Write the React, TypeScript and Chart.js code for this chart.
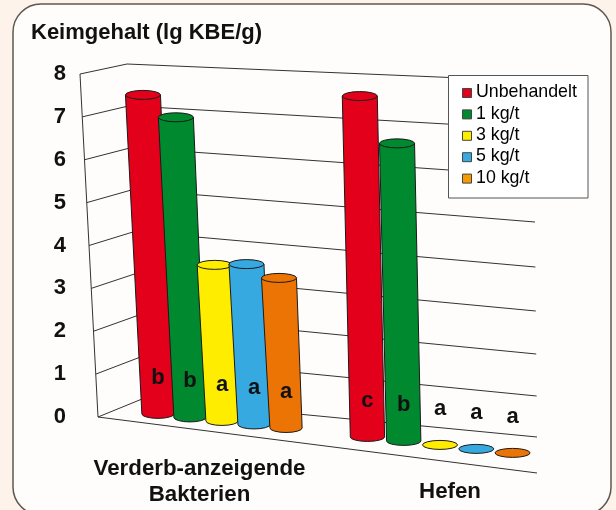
import React, { useEffect, useRef } from "react";
import { Chart, registerables } from "chart.js";

Chart.register(...registerables);

const categories = [["Verderb-anzeigende", "Bakterien"], ["", "Hefen"]];
const treatments = ["Unbehandelt", "1 kg/t", "3 kg/t", "5 kg/t", "10 kg/t"];
const unbehandelt = [7.44, 7.95];
const kg1 = [7.0, 6.94];
const kg3 = [3.64, 0];
const kg5 = [3.74, 0];
const kg10 = [3.5, 0];
const lettersBakterien = ["b", "b", "a", "a", "a"];
const lettersHefen = ["c", "b", "a", "a", "a"];
const yTicks = [0, 1, 2, 3, 4, 5, 6, 7, 8];

const barColors = ["#e2001a", "#00892f", "#ffed00", "#36a9e1", "#ec7405"];
const swatchColors = ["#e2001a", "#00892f", "#ffed00", "#36a9e1", "#f59b00"];

const FONT = '"Liberation Sans", Arial, sans-serif';
const INK = "#111111";
const LINE = "#333333";

// how the flat chart is seen in the oblique picture, one entry per group
const groupView = [
  { shift: 22.5, spread: 0.933, lean: 0.047, foot: 0.92 },
  { shift: -10, spread: 1.057, lean: 0.0225, foot: 0.98 },
];
const FLOOR_SLOPE = 0.11;
const ELLIPSE_RY = 4.5;

function wallPoints(y: any, v: number) {
  const p = y.getPixelForValue(v);
  return {
    front: [98 - 2.25 * v, p],
    back: [142 - 1.875 * v, p - 18 + v],
    right: [537 - 0.4 * v, p + 20 + 2.375 * v - 0.5 * v * v],
  };
}

const obliquePlugin = {
  id: "oblique",
  afterLayout(chart: any) {
    const lg = chart.legend;
    lg.left = 458.35;
    lg.right = 588;
    lg.top = 80.1;
    lg.bottom = 198;
  },
  beforeDraw(chart: any) {
    const { ctx, scales } = chart;
    const y = scales.y;
    ctx.save();
    ctx.fillStyle = "#fdf3ea";
    ctx.fillRect(0, 0, chart.width, chart.height);
    ctx.beginPath();
    ctx.roundRect(13, 4, 598, 511, 28);
    ctx.fillStyle = "#fffdfb";
    ctx.fill();
    ctx.lineWidth = 1.5;
    ctx.strokeStyle = "#5d5750";
    ctx.stroke();

    ctx.lineWidth = 1;
    ctx.strokeStyle = LINE;
    yTicks.forEach((v) => {
      const w = wallPoints(y, v);
      ctx.beginPath();
      ctx.moveTo(w.front[0], w.front[1]);
      ctx.lineTo(w.back[0], w.back[1]);
      ctx.lineTo(w.right[0], w.right[1]);
      ctx.stroke();
    });
    const bottom = wallPoints(y, 0).front;
    const top = wallPoints(y, 8).front;
    ctx.beginPath();
    ctx.moveTo(top[0], top[1]);
    ctx.lineTo(bottom[0], bottom[1]);
    ctx.lineTo(537, bottom[1] + 56);
    ctx.stroke();

    ctx.beginPath();
    ctx.rect(448.5, 75.5, 139.5, 122.5);
    ctx.fillStyle = "#ffffff";
    ctx.fill();
    ctx.strokeStyle = "#555555";
    ctx.stroke();
    swatchColors.forEach((c, i) => {
      ctx.beginPath();
      ctx.rect(462.5, 88.5 + i * 21.4, 9, 9);
      ctx.fillStyle = c;
      ctx.fill();
      ctx.strokeStyle = "#444444";
      ctx.stroke();
    });
    ctx.restore();
  },
  beforeDatasetsDraw(chart: any) {
    const { ctx, scales } = chart;
    const xs = scales.x;
    const ys = scales.y;
    const labels: { t: string; x: number; y: number }[] = [];
    ctx.save();
    chart.data.datasets.forEach((ds: any, di: number) => {
      chart.getDatasetMeta(di).data.forEach((bar: any, g: number) => {
        const view = groupView[g];
        const { x, y, base, width } = bar.getProps(["x", "y", "base", "width"], true);
        const gc = xs.getPixelForValue(g);
        const footX = gc + view.shift + (x - gc) * view.spread;
        const floor = base - 3 + (footX - 159) * FLOOR_SLOPE;
        const height = base - y;
        const topX = footX - view.lean * height;
        const topY = floor - height;
        const wTop = width / 2;
        const wFoot = (width * view.foot) / 2;
        ctx.fillStyle = ds.backgroundColor;
        ctx.strokeStyle = "#1a1a1a";
        ctx.lineWidth = 1;
        if (height > 0) {
          ctx.beginPath();
          ctx.moveTo(topX - wTop, topY);
          ctx.lineTo(footX - wFoot, floor);
          ctx.ellipse(footX, floor, wFoot, ELLIPSE_RY, 0, Math.PI, 0, true);
          ctx.lineTo(topX + wTop, topY);
          ctx.closePath();
          ctx.fill();
          ctx.stroke();
        }
        ctx.beginPath();
        ctx.ellipse(topX, topY, wTop, ELLIPSE_RY, 0, 0, Math.PI * 2);
        ctx.fill();
        ctx.stroke();
        const letterLift = base - ys.getPixelForValue(0.84);
        labels.push({
          t: ds.letters[g],
          x: footX,
          y: floor - letterLift,
        });
      });
    });
    ctx.fillStyle = INK;
    ctx.font = `bold 22px ${FONT}`;
    ctx.textAlign = "center";
    ctx.textBaseline = "middle";
    labels.forEach((l) => ctx.fillText(l.t, l.x, l.y));
    ctx.restore();
    return false;
  },
};

export default function App() {
  const ref = useRef<HTMLCanvasElement>(null);
  useEffect(() => {
    const series = [unbehandelt, kg1, kg3, kg5, kg10];
    const chart = new Chart(ref.current as HTMLCanvasElement, {
      type: "bar",
      data: {
        labels: categories as any,
        datasets: series.map((data, i) => ({
          label: treatments[i],
          data,
          backgroundColor: barColors[i],
          letters: [lettersBakterien[i], lettersHefen[i]],
          categoryPercentage: 0.685,
          barPercentage: 1.02,
        })) as any,
      },
      options: {
        responsive: false,
        animation: false,
        devicePixelRatio: 1,
        layout: { padding: { left: 31, right: 40.75, top: 0, bottom: 0 } },
        events: [],
        scales: {
          x: {
            grid: { display: false, drawTicks: false },
            border: { display: false },
            afterFit: (s: any) => {
              s.height = 93;
            },
            ticks: {
              maxRotation: 0,
              minRotation: 0,
              autoSkip: false,
              padding: 39,
              color: INK,
              font: (c: any) => ({
                family: FONT,
                size: 22.3,
                weight: "bold",
                lineHeight: c.index === 1 ? "24px" : "26px",
              }),
            },
          },
          y: {
            min: 0,
            max: 8,
            grid: { display: false, drawTicks: false },
            border: { display: false },
            afterFit: (s: any) => {
              s.width = 43.25;
            },
            afterBuildTicks: (s: any) => {
              s.ticks = yTicks.map((value) => ({ value }));
            },
            ticks: {
              padding: 8.25,
              color: INK,
              font: { family: FONT, size: 22, weight: "bold" },
            },
          },
        },
        plugins: {
          tooltip: { enabled: false },
          title: {
            display: true,
            text: "Keimgehalt (lg KBE/g)",
            align: "start",
            color: INK,
            font: { family: FONT, size: 22, weight: "bold", lineHeight: 1.2 },
            padding: { top: 19.8, bottom: 27.8 },
          },
          legend: {
            display: true,
            position: "chartArea",
            align: "start",
            labels: {
              boxWidth: 5.25,
              boxHeight: 9,
              padding: 3.5,
              color: "#222222",
              font: { family: FONT, size: 17.8 },
              generateLabels: () =>
                treatments.map((text, i) => ({
                  text,
                  fillStyle: "transparent",
                  strokeStyle: "transparent",
                  lineWidth: 0,
                  datasetIndex: i,
                })),
            },
          },
        },
      } as any,
      plugins: [obliquePlugin as any],
    });
    return () => chart.destroy();
  }, []);
  return (
    <div style={{ position: "fixed", left: 0, top: 0, width: 616, height: 510 }}>
      <canvas ref={ref} width={616} height={510} style={{ display: "block" }} />
    </div>
  );
}
